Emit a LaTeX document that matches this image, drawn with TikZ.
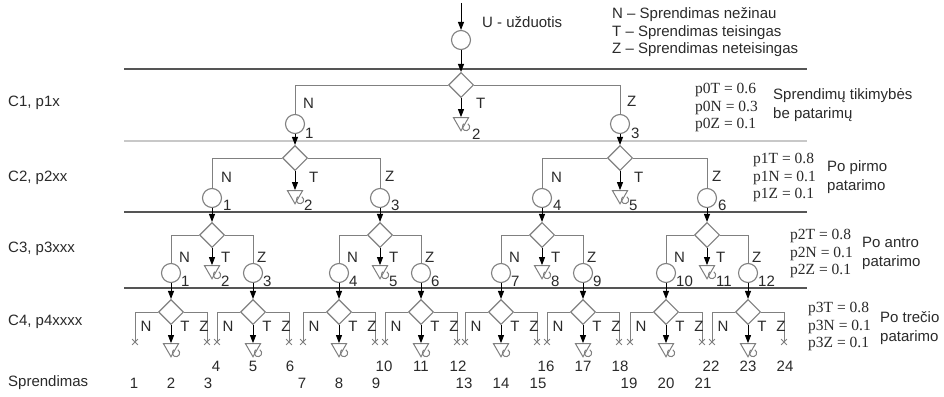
\documentclass[tikz,border=0pt]{standalone}
\usepackage{fontspec}
\setmainfont{Liberation Sans}
\newfontfamily\serifas{Liberation Serif}
\usetikzlibrary{arrows.meta,shapes.geometric,shapes.misc}

\definecolor{linija}{HTML}{808080}
\definecolor{tamsi}{HTML}{555555}
\definecolor{sviesi}{HTML}{C8C8C8}
\definecolor{tekstas}{HTML}{2A2A2A}

\tikzset{
  bus/.style={circle, draw=linija, fill=white, line width=1.1pt, minimum size=19pt, inner sep=0pt},
  sprd/.style={diamond, draw=linija, fill=white, line width=1.1pt, minimum width=25pt, minimum height=25pt, inner sep=0pt},
  galas/.style={regular polygon, regular polygon sides=3, shape border rotate=180, draw=linija, fill=white, line width=1pt, minimum size=17.5pt, inner sep=0pt},
  kryz/.style={cross out, draw=linija, line width=0.8pt, minimum size=5pt, inner sep=0pt},
  saka/.style={draw=linija, line width=1pt},
  rodykle/.style={draw=black, line width=0.9pt, -{Triangle[length=8pt,width=6pt]}},
  kilpos/.style={draw=linija, line width=1pt},
  lygis/.style={draw=tamsi, line width=1.5pt},
  lbl/.style={font=\fontsize{15}{17.5}\selectfont, text=tekstas, inner sep=0pt},
  prob/.style={font=\serifas\fontsize{15.5}{17.5}\selectfont, text=tekstas, inner sep=0pt, align=left, anchor=west},
  pastaba/.style={font=\fontsize{15}{19}\selectfont, text=tekstas, inner sep=0pt, align=left, anchor=west},
}

% small loop on a T leaf
\newcommand{\kilpa}[1]{\draw[kilpos] ([shift={(5,5)}]#1.center) ++(-60:3.7) arc[start angle=-60, end angle=240, radius=3.7];}

\begin{document}
\begin{tikzpicture}[x=1pt, y=-1pt]
    \fill[white] (0,0) rectangle (944,396);
    \useasboundingbox (0,0) rectangle (944,396);

    % levels
    \draw[lygis] (124,69) -- (807,69);
    \draw[lygis, draw=sviesi] (124,141) -- (807,141);
    \draw[lygis] (124,212) -- (807,212);
    \draw[lygis] (124,288) -- (807,288);

    \node[lbl, anchor=west] (r1) at (8,103) {C1, p1x};
    \node[lbl, anchor=west] (r2) at (8,178) {C2, p2xx};
    \node[lbl, anchor=west] (r3) at (8,249) {C3, p3xxx};
    \node[lbl, anchor=west] (r4) at (8,322) {C4, p4xxxx};
    \node[lbl, anchor=west] (r5) at (8,383) {Sprendimas};

    % legend
    \node[lbl, align=left, anchor=west] (legenda) at (612,32.5)
        {N -- Sprendimas nežinau\\T -- Sprendimas teisingas\\Z -- Sprendimas neteisingas};

    % start
    \coordinate (pradzia) at (461,3);
    \node[bus] (u) at (461,40) {};
    \node[lbl, anchor=west] (utxt) at (482,22) {U - užduotis};
    \node[sprd] (d0) at (461,85) {};
    \draw[rodykle] (pradzia) -- (u);
    \draw[rodykle] (u) -- (d0);

    % C1
    \node[bus] (a1) at (295,124) {};
    \node[galas] (a2) at (461,122) {};
    \node[bus] (a3) at (620,124) {};
    \draw[saka] (d0.west) -| (a1);
    \draw[saka] (d0.east) -| (a3);
    \draw[rodykle] (d0) -- (a2);
    \kilpa{a2}
    \node[lbl, anchor=west] (a1n) at (303,103) {N};
    \node[lbl, anchor=west] (a2t) at (476,103) {T};
    \node[lbl, anchor=west] (a3z) at (627,101) {Z};
    \node[lbl, anchor=west] (a1k) at (305,133) {1};
    \node[lbl, anchor=west] (a2k) at (472,134) {2};
    \node[lbl, anchor=west] (a3k) at (631,133) {3};
    \node[prob] (p0) at (695,107.5) {p0T = 0.6\\p0N = 0.3\\p0Z = 0.1};
    \node[pastaba] (p0txt) at (773,105.5) {Sprendimų tikimybės\\be patarimų};

    % C2
    \node[sprd] (d1) at (295,158) {};
    \node[sprd] (d3) at (620,158) {};
    \draw[rodykle] (a1) -- (d1);
    \draw[rodykle] (a3) -- (d3);
    \foreach \dd/\xn/\xt/\xz/\m in {d1/212/295/380/0, d3/542/620/707/3} {
        \pgfmathtruncatemacro\na{\m+1}
        \pgfmathtruncatemacro\nb{\m+2}
        \pgfmathtruncatemacro\nc{\m+3}
        \node[bus] (b\na) at (\xn,198) {};
        \node[galas] (b\nb) at (\xt,195) {};
        \node[bus] (b\nc) at (\xz,198) {};
        \draw[saka] (\dd.west) -| (b\na);
        \draw[saka] (\dd.east) -| (b\nc);
        \draw[rodykle] (\dd) -- (b\nb);
        \kilpa{b\nb}
        \node[lbl, anchor=west] (b\na n) at (\xn+9,177) {N};
        \node[lbl, anchor=west] (b\nb t) at (\xt+14,177) {T};
        \node[lbl, anchor=west] (b\nc z) at (\xz+5,176) {Z};
        \node[lbl, anchor=west] (b\na k) at (\xn+11,205) {\na};
        \node[lbl, anchor=west] (b\nb k) at (\xt+9,205) {\nb};
        \node[lbl, anchor=west] (b\nc k) at (\xz+11,205) {\nc};
    }
    \node[prob] (p1) at (753,177.5) {p1T = 0.8\\p1N = 0.1\\p1Z = 0.1};
    \node[pastaba] (p1txt) at (827,177.5) {Po pirmo\\patarimo};

    % C3
    \foreach \s/\x/\m in {b1/212/0, b3/380/1, b4/542/2, b6/707/3} {
        \pgfmathtruncatemacro\na{3*\m+1}
        \pgfmathtruncatemacro\nb{3*\m+2}
        \pgfmathtruncatemacro\nc{3*\m+3}
        \pgfmathtruncatemacro\ka{2*\m+1}
        \pgfmathtruncatemacro\kb{2*\m+2}
        \node[sprd] (e\m) at (\x,235) {};
        \draw[rodykle] (\s) -- (e\m);
        \node[bus] (k\ka) at (\x-41,273) {};
        \node[galas] (g\m) at (\x,270) {};
        \node[bus] (k\kb) at (\x+41,273) {};
        \draw[saka] (e\m.west) -| (k\ka);
        \draw[saka] (e\m.east) -| (k\kb);
        \draw[rodykle] (e\m) -- (g\m);
        \kilpa{g\m}
        \node[lbl, anchor=west] (e\m n) at (\x-33,257) {N};
        \node[lbl, anchor=west] (e\m t) at (\x+9,257) {T};
        \node[lbl, anchor=west] (e\m z) at (\x+45,257) {Z};
        \node[lbl, anchor=west] (k\ka k) at (\x-31,281) {\na};
        \node[lbl, anchor=west] (g\m k) at (\x+9,281) {\nb};
        \node[lbl, anchor=west] (k\kb k) at (\x+51,281) {\nc};
    }
    \node[prob] (p2) at (790,253.5) {p2T = 0.8\\p2N = 0.1\\p2Z = 0.1};
    \node[pastaba] (p2txt) at (862,253.5) {Po antro\\patarimo};

    % C4
    \foreach \j/\x/\ry in {1/171/383, 2/253/366, 3/339/383, 4/421/366,
                          5/501/383, 6/583/366, 7/666/383, 8/748/366} {
        \pgfmathtruncatemacro\na{3*\j-2}
        \pgfmathtruncatemacro\nb{3*\j-1}
        \pgfmathtruncatemacro\nc{3*\j}
        \node[sprd] (f\j) at (\x,312) {};
        \draw[rodykle] (k\j) -- (f\j);
        \node[kryz] (fn\j) at (\x-36,342) {};
        \node[galas] (ft\j) at (\x,348) {};
        \node[kryz] (fz\j) at (\x+36,342) {};
        \draw[saka] (f\j.west) -| (fn\j.center);
        \draw[saka] (f\j.east) -| (fz\j.center);
        \draw[rodykle] (f\j) -- (ft\j);
        \kilpa{ft\j}
        \node[lbl] (f\j n) at (\x-25,326) {N};
        \node[lbl] (f\j t) at (\x+14,326) {T};
        \node[lbl] (f\j z) at (\x+33,326) {Z};
        \node[lbl] (s\na) at (\x-37,\ry) {\na};
        \node[lbl] (s\nb) at (\x,\ry) {\nb};
        \node[lbl] (s\nc) at (\x+37,\ry) {\nc};
    }
    \node[prob] (p3) at (808,326.5) {p3T = 0.8\\p3N = 0.1\\p3Z = 0.1};
    \node[pastaba] (p3txt) at (880,328) {Po trečio\\patarimo};
\end{tikzpicture}
\end{document}
